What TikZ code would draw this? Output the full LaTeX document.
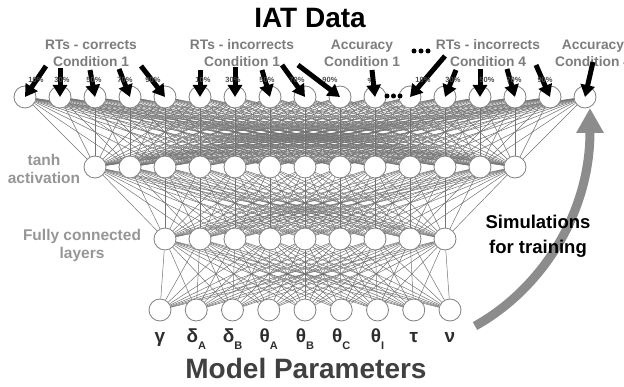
\documentclass[tikz,border=0pt]{standalone}
\usepackage{fontspec}
\setmainfont{Liberation Sans}
\usetikzlibrary{arrows.meta,backgrounds}
\definecolor{conngray}{RGB}{115,115,115}
\definecolor{circgray}{RGB}{128,128,128}
\definecolor{grouplab}{RGB}{125,125,125}
\definecolor{sidelab}{RGB}{150,150,150}
\definecolor{paramcol}{RGB}{45,45,45}
\definecolor{titlecol}{RGB}{64,64,64}
\definecolor{simarrow}{RGB}{140,140,140}
\definecolor{pctcol}{RGB}{75,75,75}
\tikzset{
 neuron/.style={circle,draw=circgray,fill=white,line width=0.8pt,minimum size=22pt,inner sep=0pt},
 conn/.style={draw=conngray,line width=0.5pt},
 inarrow/.style={draw=black,line width=5pt,-{Triangle[width=14pt,length=12pt]}},
 grouplabel/.style={font=\fontsize{13.8}{17}\selectfont\bfseries,text=grouplab,align=center,inner sep=0pt},
 sidelabel/.style={font=\fontsize{15.5}{18}\selectfont\bfseries,text=sidelab,align=center,inner sep=0pt},
 pct/.style={font=\fontsize{7.5}{7.5}\selectfont\bfseries,text=pctcol,inner sep=0pt},
 param/.style={font=\fontsize{19}{19}\selectfont\bfseries,text=paramcol,inner sep=0pt,anchor=base},
 dotmark/.style={circle,fill=black,inner sep=0pt,minimum size=5pt},
}
\newcommand{\psub}[1]{\raisebox{-7pt}{\fontsize{11}{11}\selectfont #1}}
\begin{document}
\begin{tikzpicture}[x=1pt,y=-1pt]
\useasboundingbox (0,0) rectangle (624,387);

% neurons
\foreach \i in {0,...,16} \node[neuron] (t\i) at ({25+35*\i},97) {};
\foreach \i in {0,...,12} \node[neuron] (a\i) at ({95+35*\i},167) {};
\foreach \i in {0,...,8} \node[neuron] (b\i) at ({165+35*\i},239) {};
\foreach \i in {0,...,8} \node[neuron] (p\i) at ({160+36.25*\i},310) {};

% fully connected links
\begin{scope}[on background layer]
\foreach \i in {0,...,16} \foreach \j in {0,...,12} \draw[conn] (t\i) -- (a\j);
\foreach \i in {0,...,12} \foreach \j in {0,...,8} \draw[conn] (a\i) -- (b\j);
\foreach \i in {0,...,8} \foreach \j in {0,...,8} \draw[conn] (b\i) -- (p\j);
\end{scope}

% ellipsis in the top row
\node[dotmark] (r1) at (387,96) {};
\node[dotmark] (r2) at (393.5,96) {};
\node[dotmark] (r3) at (400,96) {};

% title
\node[font=\fontsize{28}{28}\selectfont\bfseries,inner sep=0pt] (title) at (310,18) {IAT Data};

% group labels
\node[grouplabel] (g1) at (91,53) {RTs - corrects\\Condition 1};
\node[grouplabel] (g2) at (242,53) {RTs - incorrects\\Condition 1};
\node[grouplabel] (g3) at (362,53) {Accuracy\\Condition 1};
\node[grouplabel] (g4) at (488,53) {RTs - incorrects\\Condition 4};
\node[grouplabel] (g5) at (593,53) {Accuracy\\Condition 4};
\node[dotmark] (e1) at (414,51) {};
\node[dotmark] (e2) at (421,51) {};
\node[dotmark] (e3) at (428,51) {};

% small percentile label hidden under arrow (accuracy 1)
\node[pct] (q11) at (371,81) {\%};

% input arrows
\foreach \i/\sx/\sy in {0/46/66, 1/60/68, 2/90/70, 3/119/69, 4/141/66, 5/200/70, 6/235/67, 7/262/70, 8/282/65, 9/298/65, 10/372/70, 11/445/56, 12/456/70, 13/480/69, 14/507/69, 15/536/65, 16/593/62}{
  \coordinate (s\i) at (\sx,\sy);
  \draw[inarrow] (s\i) -- (t\i.center);
}

% percentile labels
\foreach \i/\lx/\lab in {0/36/10, 1/62/30, 2/94/50, 3/125/70, 4/153/90, 5/203/10, 6/233/30, 7/267/50, 8/297/70, 9/330/90, 11/423/10, 12/453/30, 13/487/50, 14/514/70, 15/545/90}{
  \node[pct] (q\i) at (\lx,80) {\lab\%};
}

% side labels
\node[sidelabel] (tanh) at (44,169) {tanh\\activation};
\node[sidelabel] (fc) at (82,245) {Fully connected\\layers};

% simulations arrow
\coordinate (simstart) at (475,326);
\coordinate (simend) at (590,108);
\draw[draw=simarrow,line width=9pt,-{Triangle[width=26pt,length=25pt]}] (simstart) .. controls (540,290) and (590,215) .. (simend);
\node[font=\fontsize{18.5}{25}\selectfont\bfseries,align=center,inner sep=0pt] (sim) at (538,236) {Simulations\\for training};

% parameter labels
\node[param] (l0) at (p0|-0,343) {γ};
\node[param] (l1) at (p1|-0,343) {δ\psub{A}};
\node[param] (l2) at (p2|-0,343) {δ\psub{B}};
\node[param] (l3) at (p3|-0,343) {θ\psub{A}};
\node[param] (l4) at (p4|-0,343) {θ\psub{B}};
\node[param] (l5) at (p5|-0,343) {θ\psub{C}};
\node[param] (l6) at (p6|-0,343) {θ\psub{I}};
\node[param] (l7) at (p7|-0,343) {τ};
\node[param] (l8) at (p8|-0,343) {ν};

\node[font=\fontsize{28}{28}\selectfont\bfseries,text=titlecol,inner sep=0pt] (mp) at (306,368) {Model Parameters};
\end{tikzpicture}
\end{document}
